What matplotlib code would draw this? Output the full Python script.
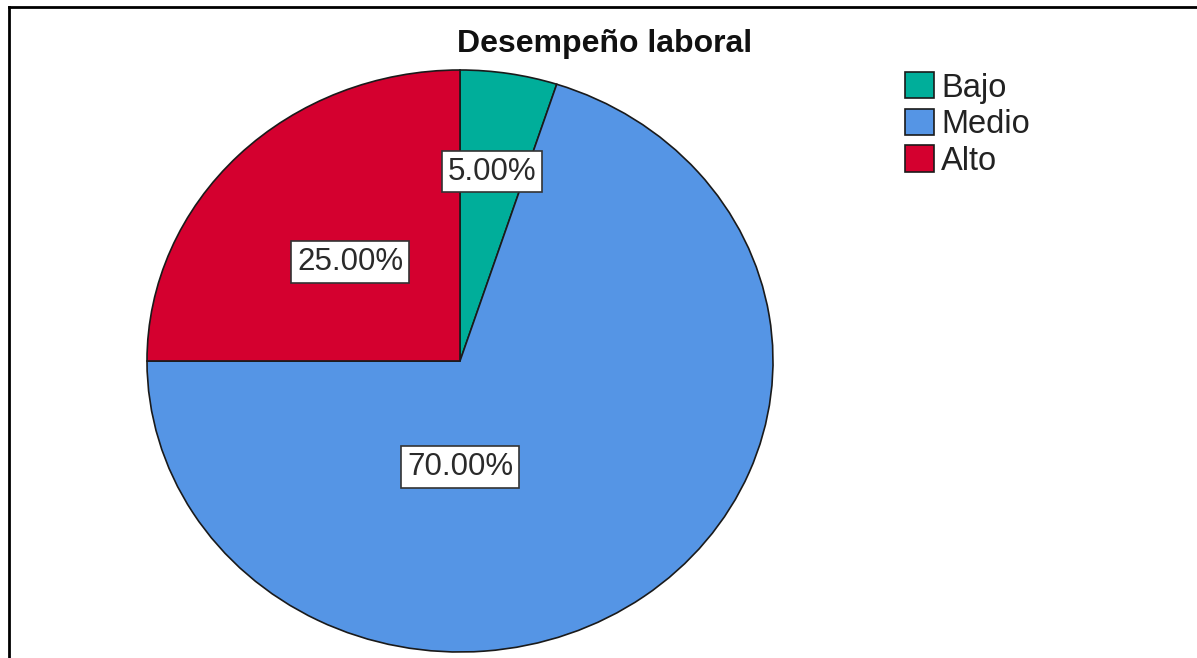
import matplotlib
matplotlib.use("Agg")
import matplotlib.pyplot as plt
from matplotlib.lines import Line2D

title = "Desempeño laboral"
categories = ["Bajo", "Medio", "Alto"]
percentages = [5.0, 70.0, 25.0]
colors = ["#00AE9A", "#5595E5", "#D4002F"]

W, H = 1197, 658
fig = plt.figure(figsize=(W / 100, H / 100), dpi=100)
plt.rcParams['font.family'] = ['Liberation Sans', 'DejaVu Sans']

# pie axes: ellipse spanning px x 147..773, y 70..652
cx0, cx1, cy0, cy1 = 147, 773, 70, 652
ax = fig.add_axes([cx0 / W, 1 - cy1 / H, (cx1 - cx0) / W, (cy1 - cy0) / H])
wedges, texts, autotexts = ax.pie(
    percentages, colors=colors, startangle=90, counterclock=False,
    autopct=lambda p: f"{p:.2f}%", pctdistance=0.6,
    wedgeprops=dict(edgecolor="#1a1a1a", linewidth=1.2),
    textprops=dict(fontsize=22.5, color="#2a2a2a"),
)
ax.set_aspect('auto')
ax.set_xlim(-1, 1)
ax.set_ylim(-1, 1)
ax.axis('off')
for w in wedges:
    w.set_clip_on(False)

# label placement (SPSS-style), in axes-normalized units
label_pos = [(0.102, 0.65), (0.0, -0.364), (-0.351, 0.34)]
for t, pos in zip(autotexts, label_pos):
    t.set_position(pos)
    t.set_ha('center')
    t.set_va('center')
    t.set_bbox(dict(boxstyle="square,pad=0.18", facecolor="white",
                    edgecolor="#333333", linewidth=1.2))

fig.text(605 / W, 1 - 44 / H, title, ha='center', va='center',
         fontsize=23, fontweight='bold', color='#111111')

leg = fig.legend(wedges, categories, loc='upper left',
                 bbox_to_anchor=(905 / W, 1 - 72 / H), frameon=False,
                 fontsize=23.5, handlelength=0.9, handleheight=0.87,
                 handletextpad=0.2, labelspacing=0.16, borderpad=0,
                 borderaxespad=0)
for txt in leg.get_texts():
    txt.set_color('#222222')

# partial frame (left and top edges)
fig.add_artist(Line2D([8.5 / W, 8.5 / W], [0, 1 - 7 / H], color='black',
                      linewidth=2, transform=fig.transFigure))
fig.add_artist(Line2D([8.5 / W, 1], [1 - 7 / H, 1 - 7 / H], color='black',
                      linewidth=2, transform=fig.transFigure))

fig.savefig("out.png", dpi=100)
